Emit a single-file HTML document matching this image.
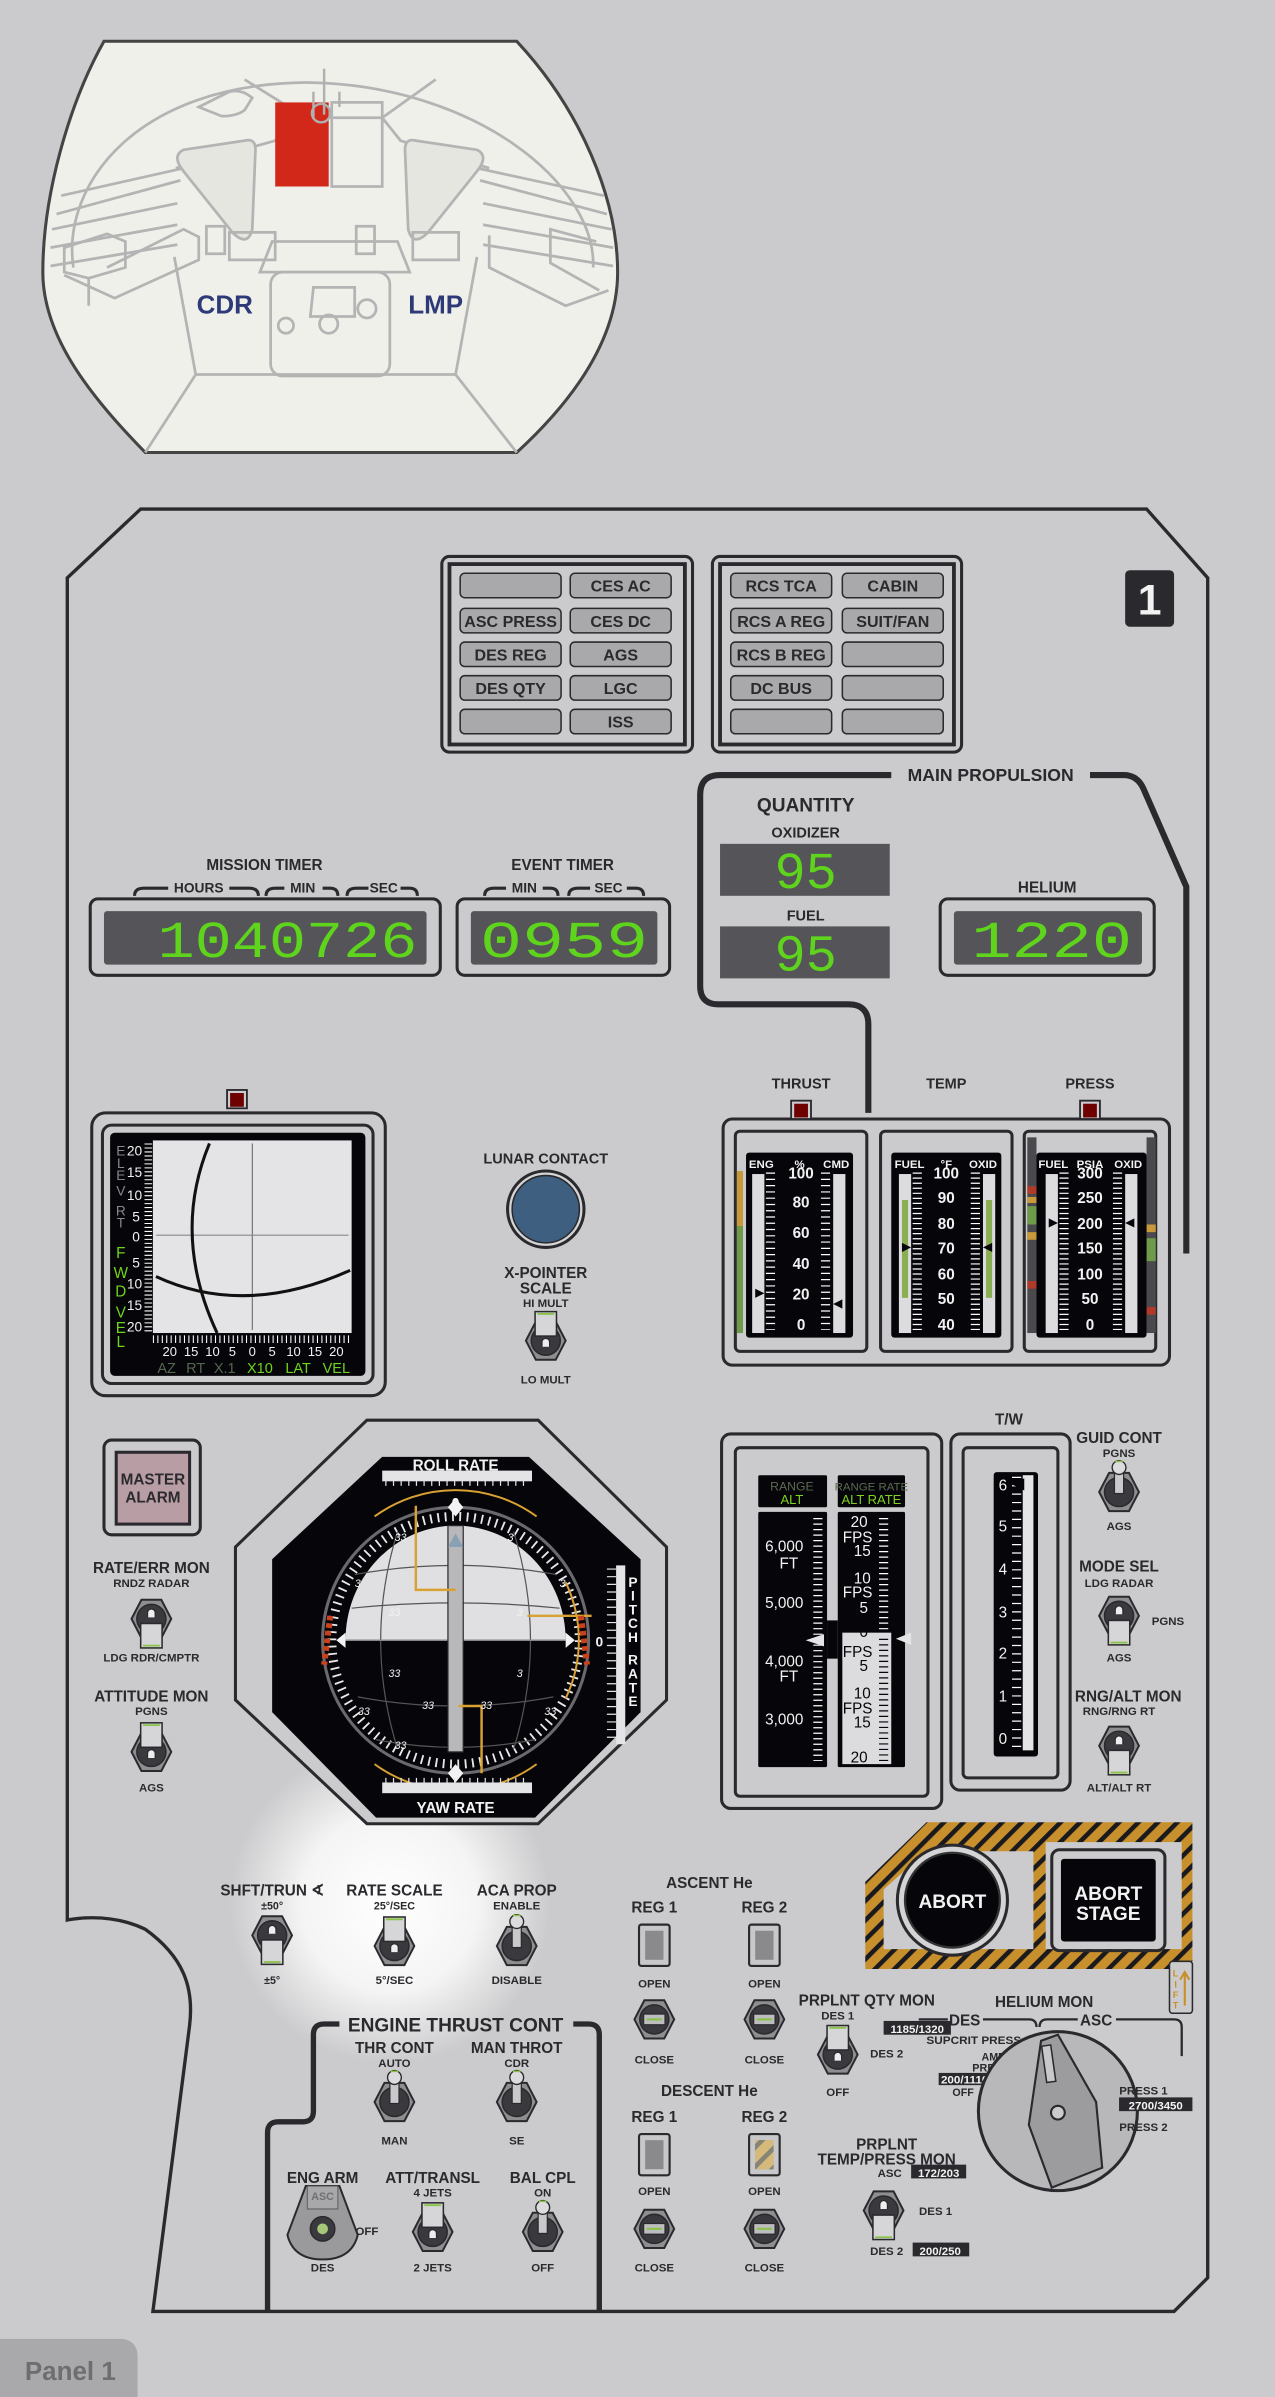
<!DOCTYPE html>
<html><head><meta charset="utf-8"><style>
html,body{margin:0;padding:0;background:#cbcbcd;}
svg{display:block}
.l{font-family:"Liberation Sans",sans-serif;font-weight:bold;fill:#2a2a2e;text-anchor:middle}
.w{font-family:"Liberation Sans",sans-serif;fill:#f2f2f2;text-anchor:middle}
.g{font-family:"Liberation Mono",monospace;fill:#5fd41c;text-anchor:middle}
</style></head><body>
<svg width="1275" height="2397" viewBox="0 0 834 1568" xmlns="http://www.w3.org/2000/svg">
<defs>
<pattern id="haz" width="9" height="9" patternUnits="userSpaceOnUse" patternTransform="rotate(45)">
<rect width="9" height="9" fill="#c8902c"/><rect width="3" height="9" fill="#1a1a1e"/></pattern>
<radialGradient id="glow"><stop offset="0" stop-color="#fff" stop-opacity="1"/><stop offset="0.55" stop-color="#fff" stop-opacity="0.8"/><stop offset="1" stop-color="#fff" stop-opacity="0"/></radialGradient>
<g id="hex"><polygon points="-13,0 -6.5,-12.5 6.5,-12.5 13,0 6.5,12.5 -6.5,12.5" fill="#8e8e90" stroke="#2a2a2e" stroke-width="1.3"/><circle r="9.5" fill="#3a3a3e" stroke="#2a2a2e"/></g>
<g id="tball"><use href="#hex"/><rect x="-3" y="-15" width="6" height="16" fill="#c9c9cb" stroke="#2a2a2e" stroke-width="0.8"/><circle cy="-16" r="4.5" fill="#dcdcde" stroke="#2a2a2e" stroke-width="0.9"/><path d="M-2.5,-20 h5" stroke="#8bc34a" stroke-width="1"/></g>
<g id="tup"><use href="#hex"/><path d="M-2.5,4 v-3 a2.5,2.5 0 0 1 5,0 v3" fill="#eee" stroke="#2a2a2e" stroke-width="0.8"/><rect x="-7" y="-19" width="14" height="16" fill="#d6d6d8" stroke="#2a2a2e" stroke-width="1"/><path d="M-5.5,-17.5 h11" stroke="#8bc34a" stroke-width="1.2"/></g>
<g id="tdn"><use href="#hex"/><path d="M-2.5,-1 v-3 a2.5,2.5 0 0 1 5,0 v3" fill="#eee" stroke="#2a2a2e" stroke-width="0.8"/><rect x="-7" y="3" width="14" height="16" fill="#d6d6d8" stroke="#2a2a2e" stroke-width="1"/><path d="M-5.5,17.5 h11" stroke="#8bc34a" stroke-width="1.2"/></g>
<g id="trot"><use href="#hex"/><rect x="-7" y="-3.5" width="14" height="7" fill="#bdbdbf" stroke="#2a2a2e" stroke-width="0.8"/><path d="M-5,0 h10" stroke="#8bc34a" stroke-width="1.4"/></g>
<g id="flag"><rect x="-10" y="-13" width="20" height="27" rx="1.5" fill="#c8c8ca" stroke="#2a2a2e" stroke-width="1.4"/><rect x="-6" y="-9" width="12" height="19" fill="#8a8a8c"/></g>
<g id="btn"><rect width="66" height="16" rx="3" fill="#a9a9ab" stroke="#2a2a2e" stroke-width="1"/></g>
<g id="lamp"><rect x="-6.5" y="-7" width="13" height="12" fill="#cbcbcd" stroke="#2a2a2e" stroke-width="1.2"/><rect x="-4.5" y="-5" width="9" height="9" fill="#6e0000"/></g>
</defs>
<rect width="834" height="1568" fill="#cbcbcd"/>

<!-- cockpit view -->
<g>
<path d="M68,27 H338 C380,72 404,130 404,178 C404,222 375,262 338,296 H95 C62,262 28,222 28,178 C28,128 45,68 68,27Z" fill="#f0f0eb" stroke="#444" stroke-width="2"/>
<g fill="none" stroke="#b4b4b4" stroke-width="1.8">
<path d="M48,175 C40,120 90,55 200,54 C310,55 390,120 388,175"/>
<path d="M128,245 L95,296 M298,245 L338,296 M128,245 H298 M128,245 L114,168 M298,245 L312,168"/>
<path d="M160,52 L200,77 L250,77 L285,52 M190,77 L180,92 L115,110 M250,77 L262,92 L320,110"/>
<path d="M120,110 L40,128 M118,118 L37,140 M116,133 L34,150 M116,147 L33,162 M116,160 L33,174" />
<path d="M312,110 L395,128 M314,118 L397,140 M316,133 L400,150 M316,147 L401,162 M316,160 L401,174"/>
<path d="M120,98 L160,92 Q168,90 167,100 L165,150 Q162,162 152,152 L120,112 Q112,102 120,98Z" fill="#e6e6e0"/>
<path d="M312,98 L272,92 Q264,90 265,100 L267,150 Q270,162 280,152 L312,112 Q320,102 312,98Z" fill="#e6e6e0"/>
<path d="M178,158 H260 L268,178 H170Z M205,188 H232 V207 H203Z"/>
<path d="M42,162 L70,153 L82,158 V175 L58,182 L42,178Z M58,182 V200 M42,180 L75,195 L130,170 V155 L120,150 L70,175"/>
<path d="M390,158 L360,150 V172 L392,190 M320,154 V175 L370,200 L398,190"/>
<rect x="177" y="178" width="78" height="68" rx="8"/>
<rect x="135" y="148" width="12" height="18"/><rect x="233" y="148" width="12" height="18"/>
<path d="M150,152 H180 V170 H150Z M270,152 H300 V170 H270Z"/>
<circle cx="215" cy="212" r="6"/><circle cx="240" cy="202" r="6"/><circle cx="187" cy="213" r="5"/>
<path d="M130,70 L150,60 Q158,58 165,64 L160,72 Q155,76 145,76Z"/>
<path d="M217,67 H250 V122 H217Z"/>
</g>
<rect x="180" y="67" width="35" height="55" fill="#d2281a"/>
<path d="M212,45 V75 M205,60 V78 M222,60 V70 M210,68 a6,6 0 1 0 0.1,0" stroke="#b0b0b0" stroke-width="1.6" fill="none"/>
<text x="147" y="205" class="l" style="font-size:17px;fill:#2e3a78">CDR</text>
<text x="285" y="205" class="l" style="font-size:17px;fill:#2e3a78">LMP</text>
</g>

<!-- panel outline -->
<path d="M44,378 L92,333 H750 L790,378 V1490 L768,1512 H100 L124,1325 C127,1300 120,1280 95,1262 C70,1250 44,1256 44,1256 Z" fill="#cbcbcd" stroke="#2a2a2e" stroke-width="2.2"/>
<circle cx="255" cy="1245" r="105" fill="url(#glow)"/>

<!-- annunciators -->
<g>
<rect x="289" y="364" width="164" height="128" rx="5" fill="none" stroke="#2a2a2e" stroke-width="2"/>
<rect x="294" y="369" width="154" height="118" fill="none" stroke="#2a2a2e" stroke-width="2.5"/>
<rect x="466" y="364" width="163" height="128" rx="5" fill="none" stroke="#2a2a2e" stroke-width="2"/>
<rect x="471" y="369" width="153" height="118" fill="none" stroke="#2a2a2e" stroke-width="2.5"/>
<use href="#btn" x="301" y="375"/><use href="#btn" x="373" y="375"/>
<use href="#btn" x="301" y="398"/><use href="#btn" x="373" y="398"/>
<use href="#btn" x="301" y="420"/><use href="#btn" x="373" y="420"/>
<use href="#btn" x="301" y="442"/><use href="#btn" x="373" y="442"/>
<use href="#btn" x="301" y="464"/><use href="#btn" x="373" y="464"/>
<use href="#btn" x="478" y="375"/><use href="#btn" x="551" y="375"/>
<use href="#btn" x="478" y="398"/><use href="#btn" x="551" y="398"/>
<use href="#btn" x="478" y="420"/><use href="#btn" x="551" y="420"/>
<use href="#btn" x="478" y="442"/><use href="#btn" x="551" y="442"/>
<use href="#btn" x="478" y="464"/><use href="#btn" x="551" y="464"/>
<g class="l" style="font-size:10.5px">
<text x="406" y="387">CES AC</text>
<text x="334" y="410">ASC PRESS</text><text x="406" y="410">CES DC</text>
<text x="334" y="432">DES REG</text><text x="406" y="432">AGS</text>
<text x="334" y="454">DES QTY</text><text x="406" y="454">LGC</text>
<text x="406" y="476">ISS</text>
<text x="511" y="387">RCS TCA</text><text x="584" y="387">CABIN</text>
<text x="511" y="410">RCS A REG</text><text x="584" y="410">SUIT/FAN</text>
<text x="511" y="432">RCS B REG</text>
<text x="511" y="454">DC BUS</text>
</g>
<rect x="736" y="373" width="32" height="37" rx="3" fill="#2a2a2e"/>
<text x="752" y="402" class="w" style="font-size:28px;font-weight:bold">1</text>
</g>

<!-- timers -->
<g>
<text x="173" y="569" class="l" style="font-size:10px">MISSION TIMER</text>
<g fill="none" stroke="#2a2a2e" stroke-width="2">
<path d="M88,586 q0,-5 6,-5 H110 M150,581 H163 q6,0 6,5 M174,586 q0,-5 6,-5 H186 M211,581 H216 q5,0 5,5 M227,586 q0,-5 6,-5 H241 M262,581 H268 q5,0 5,5"/>
<path d="M317,586 q0,-5 6,-5 H331 M355,581 H360 q5,0 5,5 M372,586 q0,-5 6,-5 H386 M410,581 H416 q5,0 5,5"/>
</g>
<g class="l" style="font-size:9px"><text x="130" y="584">HOURS</text><text x="198" y="584">MIN</text><text x="251" y="584">SEC</text><text x="343" y="584">MIN</text><text x="398" y="584">SEC</text></g>
<text x="368" y="569" class="l" style="font-size:10px">EVENT TIMER</text>
<rect x="59" y="588" width="229" height="50" rx="5" fill="none" stroke="#2a2a2e" stroke-width="2"/>
<rect x="68" y="596" width="211" height="35" rx="2" fill="#555559"/>
<text x="188" y="626" class="g" style="font-size:34px" textLength="170" lengthAdjust="spacingAndGlyphs">1040726</text>
<rect x="299" y="588" width="139" height="50" rx="5" fill="none" stroke="#2a2a2e" stroke-width="2"/>
<rect x="308" y="596" width="122" height="35" rx="2" fill="#555559"/>
<text x="369" y="626" class="g" style="font-size:34px" textLength="110" lengthAdjust="spacingAndGlyphs">0959</text>
</g>

<!-- main propulsion -->
<g>
<path d="M568,728 V670 Q568,657 555,657 H470 Q458,657 458,645 V520 Q458,507 471,507 H583 M713,507 H735 Q744,507 748,516 L776,580 V820" fill="none" stroke="#2a2a2e" stroke-width="4"/>
<text x="648" y="511" class="l" style="font-size:11.5px">MAIN PROPULSION</text>
<text x="527" y="531" class="l" style="font-size:12.5px">QUANTITY</text>
<text x="527" y="548" class="l" style="font-size:9.5px">OXIDIZER</text>
<rect x="471" y="552" width="111" height="34" fill="#555559"/>
<text x="527" y="581" class="g" style="font-size:34px">95</text>
<text x="527" y="602" class="l" style="font-size:9.5px">FUEL</text>
<rect x="471" y="606" width="111" height="34" fill="#555559"/>
<text x="527" y="635" class="g" style="font-size:34px">95</text>
<text x="685" y="584" class="l" style="font-size:10px">HELIUM</text>
<rect x="615" y="588" width="140" height="50" rx="5" fill="none" stroke="#2a2a2e" stroke-width="2"/>
<rect x="624" y="596" width="123" height="35" rx="2" fill="#555559"/>
<text x="688" y="626" class="g" style="font-size:34px" textLength="105" lengthAdjust="spacingAndGlyphs">1220</text>
</g>

<!-- thrust/temp/press -->
<g>
<g class="l" style="font-size:9.5px"><text x="524" y="712">THRUST</text><text x="619" y="712">TEMP</text><text x="713" y="712">PRESS</text></g>
<rect x="473" y="732" width="292" height="161" rx="6" fill="none" stroke="#2a2a2e" stroke-width="2"/>
<use href="#lamp" x="524" y="727"/><use href="#lamp" x="713" y="727"/>
<rect x="481" y="740" width="86" height="144" rx="3" fill="none" stroke="#2a2a2e" stroke-width="2"/>
<rect x="576" y="740" width="86" height="144" rx="3" fill="none" stroke="#2a2a2e" stroke-width="2"/>
<rect x="670" y="740" width="86" height="144" rx="3" fill="none" stroke="#2a2a2e" stroke-width="2"/>
<rect x="482" y="766" width="4" height="36" fill="#c8993a"/><rect x="482" y="802" width="4" height="70" fill="#6f9a4a"/>
<rect x="488" y="754" width="70" height="121" rx="2" fill="#05050a"/>
<g class="w" style="font-size:7.5px;font-weight:bold"><text x="498" y="764">ENG</text><text x="523" y="764">%</text><text x="547" y="764">CMD</text></g>
<rect x="492" y="768" width="8" height="104" fill="#dcdcde"/><rect x="545" y="768" width="8" height="104" fill="#dcdcde"/>
<line x1="504" y1="767" x2="504" y2="870" stroke="#fff" stroke-width="6" stroke-dasharray="0.8 3.3"/>
<line x1="540" y1="767" x2="540" y2="870" stroke="#fff" stroke-width="6" stroke-dasharray="0.8 3.3"/>
<g class="w" style="font-size:10px;font-weight:bold"><text x="524" y="771">100</text><text x="524" y="790">80</text><text x="524" y="810">60</text><text x="524" y="830">40</text><text x="524" y="850">20</text><text x="524" y="870">0</text></g>
<path d="M494,843 l6,3 l-6,3Z M551,850 l-6,3 l6,3Z" fill="#05050a"/>
<rect x="583" y="754" width="72" height="121" rx="2" fill="#05050a"/>
<g class="w" style="font-size:7.5px;font-weight:bold"><text x="595" y="764">FUEL</text><text x="619" y="764">°F</text><text x="643" y="764">OXID</text></g>
<rect x="588" y="768" width="8" height="104" fill="#dcdcde"/><rect x="643" y="768" width="8" height="104" fill="#dcdcde"/>
<rect x="590" y="785" width="4" height="64" fill="#8aae52"/><rect x="645" y="785" width="4" height="64" fill="#8aae52"/>
<line x1="600" y1="767" x2="600" y2="870" stroke="#fff" stroke-width="6" stroke-dasharray="0.8 2.5"/>
<line x1="638" y1="767" x2="638" y2="870" stroke="#fff" stroke-width="6" stroke-dasharray="0.8 2.5"/>
<g class="w" style="font-size:10px;font-weight:bold"><text x="619" y="771">100</text><text x="619" y="787">90</text><text x="619" y="804">80</text><text x="619" y="820">70</text><text x="619" y="837">60</text><text x="619" y="853">50</text><text x="619" y="870">40</text></g>
<path d="M590,813 l6,3 l-6,3Z M649,813 l-6,3 l6,3Z" fill="#05050a"/>
<rect x="672" y="744" width="6" height="128" fill="#4a4a4e"/><rect x="750" y="744" width="6" height="128" fill="#4a4a4e"/>
<rect x="672" y="776" width="6" height="5" fill="#b03a2a"/><rect x="672" y="783" width="6" height="4" fill="#c8993a"/><rect x="672" y="789" width="6" height="12" fill="#6f9a4a"/><rect x="672" y="806" width="6" height="5" fill="#c8993a"/><rect x="672" y="838" width="6" height="5" fill="#b03a2a"/>
<rect x="750" y="801" width="6" height="5" fill="#c8993a"/><rect x="750" y="810" width="6" height="15" fill="#6f9a4a"/><rect x="750" y="855" width="6" height="5" fill="#b03a2a"/>
<rect x="678" y="754" width="72" height="121" rx="2" fill="#05050a"/>
<g class="w" style="font-size:7.5px;font-weight:bold"><text x="689" y="764">FUEL</text><text x="713" y="764">PSIA</text><text x="738" y="764">OXID</text></g>
<rect x="684" y="768" width="8" height="104" fill="#dcdcde"/><rect x="736" y="768" width="8" height="104" fill="#dcdcde"/>
<line x1="696" y1="767" x2="696" y2="870" stroke="#fff" stroke-width="6" stroke-dasharray="0.8 2.5"/>
<line x1="731" y1="767" x2="731" y2="870" stroke="#fff" stroke-width="6" stroke-dasharray="0.8 2.5"/>
<g class="w" style="font-size:10px;font-weight:bold"><text x="713" y="771">300</text><text x="713" y="787">250</text><text x="713" y="804">200</text><text x="713" y="820">150</text><text x="713" y="837">100</text><text x="713" y="853">50</text><text x="713" y="870">0</text></g>
<path d="M686,797 l6,3 l-6,3Z M742,797 l-6,3 l6,3Z" fill="#05050a"/>
</g>

<!-- x-pointer display -->
<g>
<use href="#lamp" x="155" y="720"/>
<rect x="60" y="728" width="192" height="185" rx="9" fill="#cbcbcd" stroke="#2a2a2e" stroke-width="2"/>
<rect x="67" y="736" width="177" height="169" rx="6" fill="none" stroke="#2a2a2e" stroke-width="2"/>
<rect x="72" y="741" width="167" height="159" rx="3" fill="#05050a"/>
<rect x="100" y="746" width="130" height="126" fill="#e4e4e6"/>
<line x1="165" y1="748" x2="165" y2="870" stroke="#555" stroke-width="0.6"/>
<line x1="102" y1="808" x2="228" y2="808" stroke="#888" stroke-width="0.7"/>
<path d="M137,748 Q112,808 142,872" fill="none" stroke="#111" stroke-width="2"/>
<path d="M102,835 Q160,862 229,831" fill="none" stroke="#111" stroke-width="2"/>
<line x1="97" y1="748" x2="97" y2="872" stroke="#fff" stroke-width="5" stroke-dasharray="0.7 1.9"/>
<line x1="100" y1="876" x2="230" y2="876" stroke="#fff" stroke-width="5" stroke-dasharray="0.7 2.2"/>
<g class="w" style="font-size:9px"><text x="88" y="756">20</text><text x="88" y="770">15</text><text x="88" y="785">10</text><text x="89" y="799">5</text><text x="89" y="812">0</text><text x="89" y="829">5</text><text x="88" y="843">10</text><text x="88" y="857">15</text><text x="88" y="871">20</text></g>
<g class="w" style="font-size:9px;fill:#888"><text x="79" y="756">E</text><text x="79" y="764">L</text><text x="79" y="772">E</text><text x="79" y="782">V</text><text x="79" y="795">R</text><text x="79" y="803">T</text></g>
<g class="w" style="font-size:10px;fill:#6fd41c"><text x="79" y="823">F</text><text x="79" y="836">W</text><text x="79" y="848">D</text><text x="79" y="862">V</text><text x="79" y="872">E</text><text x="79" y="881">L</text></g>
<g class="w" style="font-size:8.5px"><text x="111" y="887">20</text><text x="125" y="887">15</text><text x="139" y="887">10</text><text x="152" y="887">5</text><text x="165" y="887">0</text><text x="178" y="887">5</text><text x="192" y="887">10</text><text x="206" y="887">15</text><text x="220" y="887">20</text></g>
<g class="w" style="font-size:9.5px"><text x="109" y="898" style="fill:#556650">AZ</text><text x="128" y="898" style="fill:#556650">RT</text><text x="147" y="898" style="fill:#556650">X.1</text><text x="170" y="898" style="fill:#6fd41c">X10</text><text x="195" y="898" style="fill:#6fd41c">LAT</text><text x="220" y="898" style="fill:#6fd41c">VEL</text></g>
</g>

<!-- lunar contact -->
<g>
<text x="357" y="761" class="l" style="font-size:9.5px">LUNAR CONTACT</text>
<circle cx="357" cy="791" r="25" fill="#d4d4d6" stroke="#2a2a2e" stroke-width="2"/>
<circle cx="357" cy="791" r="22" fill="#3e5f80" stroke="#2a2a2e" stroke-width="1"/>
<text x="357" y="836" class="l" style="font-size:10px">X-POINTER</text>
<text x="357" y="846" class="l" style="font-size:10px">SCALE</text>
<text x="357" y="855" class="l" style="font-size:7.5px">HI MULT</text>
<use href="#tup" x="357" y="877"/>
<text x="357" y="905" class="l" style="font-size:7.5px">LO MULT</text>
</g>

<!-- master alarm & left toggles -->
<g>
<rect x="68" y="942" width="63" height="62" rx="5" fill="none" stroke="#2a2a2e" stroke-width="2"/>
<rect x="76" y="950" width="48" height="47" fill="#b99da5" stroke="#2a2a2e" stroke-width="2"/>
<text x="100" y="971" class="l" style="font-size:10px">MASTER</text>
<text x="100" y="983" class="l" style="font-size:10px">ALARM</text>
<text x="99" y="1029" class="l" style="font-size:10px">RATE/ERR MON</text>
<text x="99" y="1038" class="l" style="font-size:7.5px">RNDZ RADAR</text>
<use href="#tdn" x="99" y="1059"/>
<text x="99" y="1087" class="l" style="font-size:7.5px">LDG RDR/CMPTR</text>
<text x="99" y="1113" class="l" style="font-size:10px">ATTITUDE MON</text>
<text x="99" y="1122" class="l" style="font-size:7.5px">PGNS</text>
<use href="#tup" x="99" y="1146"/>
<text x="99" y="1172" class="l" style="font-size:7.5px">AGS</text>
</g>

<!-- FDAI -->
<g>
<polygon points="240,929 352,929 436,1012 436,1112 352,1193 240,1193 154,1112 154,1012" fill="#cbcbcd" stroke="#2a2a2e" stroke-width="2"/>
<polygon points="250,953 346,953 419,1020 419,1120 350,1189 246,1189 178,1120 178,1020" fill="#05050a"/>
<circle cx="298" cy="1073" r="87" fill="#05050a" stroke="#6a6a6e" stroke-width="2"/>
<circle cx="298" cy="1073" r="81" fill="none" stroke="#e8e8e8" stroke-width="6" stroke-dasharray="1.2 3.6"/>
<path d="M226,1073 A72,75 0 0 1 370,1073 Z" fill="#e0e0e2"/>
<g fill="none" stroke="#555" stroke-width="0.8">
<path d="M232,1030 Q298,1018 364,1030 M230,1052 Q298,1045 366,1052"/>
<path d="M234,1110 Q298,1122 362,1110 M246,1138 Q298,1148 350,1138"/>
<path d="M260,1002 Q238,1073 260,1144 M336,1002 Q358,1073 336,1144"/>
</g>
<line x1="226" y1="1073" x2="370" y2="1073" stroke="#888" stroke-width="1"/>
<rect x="293" y="998" width="10" height="148" fill="#b8b8ba" stroke="#2a2a2e" stroke-width="0.8"/>
<path d="M293,1012 l5,-9 l5,9Z" fill="#8aa0b5"/>
<path d="M245,992 A90,90 0 0 1 351,992 M370,1035 A88,88 0 0 1 370,1111 M245,1154 A90,90 0 0 0 351,1154" fill="none" stroke="#d9a032" stroke-width="1.3"/>
<path d="M272,985 V1040 H298 M345,1057 H387 M315,1160 V1116 H300" fill="none" stroke="#d9a032" stroke-width="1.6"/>
<path d="M216,1057 l-4,32 M380,1057 l4,32" stroke="#c8401c" stroke-width="4" stroke-dasharray="3 2"/>
<path d="M298,980 l5,6 l-5,6 l-5,-6Z M298,1154 l5,6 l-5,6 l-5,-6Z M220,1073 l6,-5 v10Z M376,1073 l-6,-5 v10Z" fill="#f2f2f2"/>
<g class="w" style="font-size:7px;font-style:italic"><text x="262" y="1008">33</text><text x="334" y="1008">3</text><text x="234" y="1038">3</text><text x="368" y="1038">3</text><text x="258" y="1057">33</text><text x="340" y="1057">3</text><text x="258" y="1097">33</text><text x="340" y="1097">3</text><text x="238" y="1122">33</text><text x="280" y="1118">33</text><text x="318" y="1118">33</text><text x="360" y="1122">33</text><text x="262" y="1144">33</text></g>
<rect x="250" y="962" width="98" height="7" fill="#e4e4e6"/>
<line x1="252" y1="969" x2="346" y2="969" stroke="#e4e4e6" stroke-width="6" stroke-dasharray="0.8 4.2"/>
<text x="298" y="962" class="w" style="font-size:10px;font-weight:bold">ROLL RATE</text>
<text x="298" y="986" class="w" style="font-size:9px;font-weight:bold">0</text>
<rect x="250" y="1166" width="98" height="7" fill="#e4e4e6"/>
<line x1="252" y1="1166" x2="346" y2="1166" stroke="#e4e4e6" stroke-width="6" stroke-dasharray="0.8 4.2"/>
<text x="298" y="1163" class="w" style="font-size:9px;font-weight:bold">0</text>
<text x="298" y="1186" class="w" style="font-size:10px;font-weight:bold">YAW RATE</text>
<rect x="403" y="1024" width="6" height="117" fill="#e4e4e6"/>
<line x1="400" y1="1026" x2="400" y2="1139" stroke="#e4e4e6" stroke-width="6" stroke-dasharray="0.8 4.2"/>
<text x="392" y="1077" class="w" style="font-size:9px;font-weight:bold">0</text>
<g class="w" style="font-size:9px;font-weight:bold"><text x="414" y="1038">P</text><text x="414" y="1047">I</text><text x="414" y="1056">T</text><text x="414" y="1065">C</text><text x="414" y="1074">H</text><text x="414" y="1089">R</text><text x="414" y="1098">A</text><text x="414" y="1107">T</text><text x="414" y="1116">E</text></g>
</g>

<!-- range / alt -->
<g>
<rect x="472" y="938" width="144" height="245" rx="6" fill="none" stroke="#2a2a2e" stroke-width="2"/>
<rect x="481" y="947" width="126" height="228" rx="3" fill="none" stroke="#2a2a2e" stroke-width="2"/>
<rect x="496" y="965" width="45" height="21" rx="1" fill="#05050a"/>
<rect x="548" y="965" width="44" height="21" rx="1" fill="#05050a"/>
<text x="518" y="975" class="w" style="font-size:8px;fill:#5b6b50">RANGE</text>
<text x="518" y="984" class="w" style="font-size:8.5px;fill:#7fd41c">ALT</text>
<text x="570" y="975" class="w" style="font-size:7.5px;fill:#5b6b50">RANGE RATE</text>
<text x="570" y="984" class="w" style="font-size:8.5px;fill:#7fd41c">ALT RATE</text>
<rect x="496" y="989" width="45" height="167" rx="1" fill="#05050a"/>
<rect x="548" y="989" width="44" height="167" rx="1" fill="#05050a"/>
<rect x="541" y="1060" width="7" height="25" fill="#05050a"/>
<rect x="551" y="1068" width="32" height="86" fill="#dcdcde"/>
<line x1="535" y1="993" x2="535" y2="1152" stroke="#fff" stroke-width="6" stroke-dasharray="0.8 2.8"/>
<line x1="578" y1="993" x2="578" y2="1066" stroke="#fff" stroke-width="6" stroke-dasharray="0.8 2.8"/>
<line x1="578" y1="1072" x2="578" y2="1152" stroke="#05050a" stroke-width="6" stroke-dasharray="0.8 2.8"/>
<g class="w" style="font-size:10px"><text x="513" y="1015">6,000</text><text x="516" y="1026">FT</text><text x="513" y="1052">5,000</text><text x="513" y="1090">4,000</text><text x="516" y="1100">FT</text><text x="513" y="1128">3,000</text>
<text x="562" y="999">20</text><text x="561" y="1009">FPS</text><text x="564" y="1018">15</text><text x="564" y="1036">10</text><text x="561" y="1045">FPS</text><text x="565" y="1055">5</text></g>
<g class="w" style="font-size:10px;fill:#05050a"><text x="565" y="1071">0</text><text x="561" y="1084">FPS</text><text x="565" y="1093">5</text><text x="564" y="1111">10</text><text x="561" y="1121">FPS</text><text x="564" y="1130">15</text><text x="562" y="1153">20</text></g>
<path d="M539,1069 l-12,4 l12,4Z M596,1068 l-10,4 l10,4Z" fill="#e4e4e6"/>
<text x="660" y="932" class="l" style="font-size:10px">T/W</text>
<rect x="622" y="938" width="78" height="233" rx="6" fill="none" stroke="#2a2a2e" stroke-width="2"/>
<rect x="630" y="947" width="62" height="216" rx="3" fill="none" stroke="#2a2a2e" stroke-width="2"/>
<rect x="650" y="963" width="29" height="186" rx="2" fill="#05050a"/>
<rect x="669" y="965" width="7" height="180" fill="#e4e4e6"/>
<line x1="665" y1="966" x2="665" y2="1144" stroke="#fff" stroke-width="6" stroke-dasharray="0.8 4.7"/>
<g class="w" style="font-size:10px"><text x="656" y="975">6</text><text x="656" y="1002">5</text><text x="656" y="1030">4</text><text x="656" y="1058">3</text><text x="656" y="1085">2</text><text x="656" y="1113">1</text><text x="656" y="1141">0</text></g>
<path d="M662,971 l8,-4 v8Z" fill="#05050a"/>
</g>

<!-- right toggles -->
<g>
<text x="732" y="944" class="l" style="font-size:10px">GUID CONT</text>
<text x="732" y="953" class="l" style="font-size:7.5px">PGNS</text>
<use href="#tball" x="732" y="976"/>
<text x="732" y="1001" class="l" style="font-size:7.5px">AGS</text>
<text x="732" y="1028" class="l" style="font-size:10px">MODE SEL</text>
<text x="732" y="1038" class="l" style="font-size:7.5px">LDG RADAR</text>
<use href="#tdn" x="732" y="1057"/>
<text x="764" y="1063" class="l" style="font-size:7.5px">PGNS</text>
<text x="732" y="1087" class="l" style="font-size:7.5px">AGS</text>
<text x="738" y="1113" class="l" style="font-size:10px">RNG/ALT MON</text>
<text x="732" y="1122" class="l" style="font-size:7.5px">RNG/RNG RT</text>
<use href="#tdn" x="732" y="1142"/>
<text x="732" y="1172" class="l" style="font-size:7.5px">ALT/ALT RT</text>
</g>

<!-- lower left toggles -->
<g>
<text x="178" y="1240" class="l" style="font-size:10px">SHFT/TRUN ∢</text>
<text x="178" y="1249" class="l" style="font-size:7px">±50°</text>
<use href="#tdn" x="178" y="1266"/>
<text x="178" y="1298" class="l" style="font-size:7px">±5°</text>
<text x="258" y="1240" class="l" style="font-size:10px">RATE SCALE</text>
<text x="258" y="1249" class="l" style="font-size:7px">25°/SEC</text>
<use href="#tup" x="258" y="1273"/>
<text x="258" y="1298" class="l" style="font-size:7.5px">5°/SEC</text>
<text x="338" y="1240" class="l" style="font-size:10px">ACA PROP</text>
<text x="338" y="1249" class="l" style="font-size:7.5px">ENABLE</text>
<use href="#tball" x="338" y="1273"/>
<text x="338" y="1298" class="l" style="font-size:7.5px">DISABLE</text>
<path d="M175,1512 V1395 Q175,1388 182,1388 H198 Q205,1388 205,1381 V1331 Q205,1324 212,1324 H222 M375,1324 H385 Q392,1324 392,1331 V1512" fill="none" stroke="#2a2a2e" stroke-width="3.5"/>
<text x="298" y="1329" class="l" style="font-size:12.5px">ENGINE THRUST CONT</text>
<text x="258" y="1343" class="l" style="font-size:10px">THR CONT</text>
<text x="258" y="1352" class="l" style="font-size:7.5px">AUTO</text>
<use href="#tball" x="258" y="1375"/>
<text x="258" y="1403" class="l" style="font-size:7.5px">MAN</text>
<text x="338" y="1343" class="l" style="font-size:10px">MAN THROT</text>
<text x="338" y="1352" class="l" style="font-size:7.5px">CDR</text>
<use href="#tball" x="338" y="1375"/>
<text x="338" y="1403" class="l" style="font-size:7.5px">SE</text>
<text x="211" y="1428" class="l" style="font-size:10px">ENG ARM</text>
<path d="M200,1430 H222 L234,1462 Q230,1478 211,1478 Q192,1478 188,1462Z" fill="#9a9a9c" stroke="#2a2a2e" stroke-width="1.3"/>
<rect x="201" y="1430" width="20" height="15" fill="#a8a8aa" stroke="#555" stroke-width="0.6"/>
<text x="211" y="1439" class="l" style="font-size:7px;fill:#707072">ASC</text>
<circle cx="211" cy="1458" r="8" fill="#3a3a3e" stroke="#2a2a2e"/><circle cx="211" cy="1458" r="3.5" fill="#a5c878"/>
<text x="240" y="1462" class="l" style="font-size:7.5px">OFF</text>
<text x="211" y="1486" class="l" style="font-size:7.5px">DES</text>
<text x="283" y="1428" class="l" style="font-size:10px">ATT/TRANSL</text>
<text x="283" y="1437" class="l" style="font-size:7.5px">4 JETS</text>
<use href="#tup" x="283" y="1460"/>
<text x="283" y="1486" class="l" style="font-size:7.5px">2 JETS</text>
<text x="355" y="1428" class="l" style="font-size:10px">BAL CPL</text>
<text x="355" y="1437" class="l" style="font-size:7.5px">ON</text>
<use href="#tball" x="355" y="1460"/>
<text x="355" y="1486" class="l" style="font-size:7.5px">OFF</text>
</g>

<!-- helium regs -->
<g>
<text x="464" y="1235" class="l" style="font-size:10px">ASCENT He</text>
<text x="428" y="1251" class="l" style="font-size:10px">REG 1</text><text x="500" y="1251" class="l" style="font-size:10px">REG 2</text>
<use href="#flag" x="428" y="1272"/><use href="#flag" x="500" y="1272"/>
<text x="428" y="1300" class="l" style="font-size:7.5px">OPEN</text><text x="500" y="1300" class="l" style="font-size:7.5px">OPEN</text>
<use href="#trot" x="428" y="1321"/><use href="#trot" x="500" y="1321"/>
<text x="428" y="1350" class="l" style="font-size:7.5px">CLOSE</text><text x="500" y="1350" class="l" style="font-size:7.5px">CLOSE</text>
<text x="464" y="1371" class="l" style="font-size:10px">DESCENT He</text>
<text x="428" y="1388" class="l" style="font-size:10px">REG 1</text><text x="500" y="1388" class="l" style="font-size:10px">REG 2</text>
<use href="#flag" x="428" y="1409"/>
<rect x="490" y="1396" width="20" height="27" rx="1.5" fill="#c8c8ca" stroke="#2a2a2e" stroke-width="1.4"/>
<rect x="494" y="1400" width="12" height="19" fill="url(#haz)"/>
<rect x="494" y="1400" width="12" height="19" fill="#e0dcc0" opacity="0.55"/>
<text x="428" y="1436" class="l" style="font-size:7.5px">OPEN</text><text x="500" y="1436" class="l" style="font-size:7.5px">OPEN</text>
<use href="#trot" x="428" y="1458"/><use href="#trot" x="500" y="1458"/>
<text x="428" y="1486" class="l" style="font-size:7.5px">CLOSE</text><text x="500" y="1486" class="l" style="font-size:7.5px">CLOSE</text>
</g>

<!-- abort -->
<g>
<path d="M566,1231 L606,1192 H780 V1283 H765 V1288 H566Z" fill="url(#haz)"/>
<path d="M578,1236 L606,1211 H676 V1275 H578Z" fill="#cbcbcd"/>
<rect x="684" y="1205" width="89" height="70" fill="#cbcbcd"/>
<rect x="765" y="1283" width="15" height="34" rx="2" fill="#cbcbcd" stroke="#2a2a2e" stroke-width="1"/>
<path d="M775,1312 V1290 M772,1295 l3,-5 l3,5" stroke="#c8902c" stroke-width="1.4" fill="none"/>
<g class="l" style="font-size:6px;fill:#c8902c"><text x="769" y="1293">L</text><text x="769" y="1300">I</text><text x="769" y="1307">F</text><text x="769" y="1314">T</text></g>
<circle cx="623" cy="1243" r="36" fill="#d4d4d6" stroke="#2a2a2e" stroke-width="2"/>
<circle cx="623" cy="1243" r="31" fill="#05050a" stroke="#333" stroke-width="1.5"/>
<text x="623" y="1248" class="w" style="font-size:12.5px;font-weight:bold">ABORT</text>
<rect x="688" y="1210" width="74" height="66" rx="5" fill="none" stroke="#2a2a2e" stroke-width="2"/>
<rect x="694" y="1216" width="62" height="54" rx="2" fill="#05050a"/>
<text x="725" y="1243" class="w" style="font-size:12.5px;font-weight:bold">ABORT</text>
<text x="725" y="1256" class="w" style="font-size:12.5px;font-weight:bold">STAGE</text>
</g>

<!-- prplnt / helium mon -->
<g>
<text x="567" y="1312" class="l" style="font-size:10px">PRPLNT QTY MON</text>
<text x="548" y="1321" class="l" style="font-size:7.5px">DES 1</text>
<use href="#tup" x="548" y="1344"/>
<text x="580" y="1346" class="l" style="font-size:7.5px">DES 2</text>
<text x="548" y="1371" class="l" style="font-size:7.5px">OFF</text>
<rect x="578" y="1322" width="44" height="9" fill="#2a2a2e"/><text x="600" y="1330" class="w" style="font-size:7.5px;font-weight:bold">1185/1320</text>
<text x="683" y="1313" class="l" style="font-size:10px">HELIUM MON</text>
<path d="M601,1321 H620 M643,1321 H673 Q678,1321 678,1326 M680,1326 Q680,1321 685,1321 H705 M730,1321 H768 Q773,1321 773,1326 V1345" fill="none" stroke="#2a2a2e" stroke-width="1.5"/>
<text x="631" y="1325" class="l" style="font-size:10px">DES</text>
<text x="717" y="1325" class="l" style="font-size:10px">ASC</text>
<text x="637" y="1337" class="l" style="font-size:7px" textLength="62" lengthAdjust="spacingAndGlyphs">SUPCRIT PRESS</text>
<text x="650" y="1348" class="l" style="font-size:7px">AMB</text>
<text x="648" y="1355" class="l" style="font-size:7px" textLength="24" lengthAdjust="spacingAndGlyphs">PRESS</text>
<rect x="614" y="1356" width="34" height="8" fill="#2a2a2e"/><text x="631" y="1363" class="w" style="font-size:7px;font-weight:bold" textLength="31" lengthAdjust="spacingAndGlyphs">200/1110</text>
<text x="630" y="1371" class="l" style="font-size:7px">OFF</text>
<circle cx="692" cy="1381" r="52" fill="#b8b8ba" stroke="#2a2a2e" stroke-width="2"/>
<path d="M681,1335 L692,1331 L717,1375 L721,1418 L688,1431 L673,1390 Z" fill="#9c9c9e" stroke="#2a2a2e" stroke-width="1.4"/>
<rect x="683" y="1338" width="6" height="24" transform="rotate(-8 686 1350)" fill="#c8c8ca" stroke="#2a2a2e" stroke-width="1"/>
<circle cx="692" cy="1382" r="4.5" fill="#cbcbcd" stroke="#2a2a2e" stroke-width="1.4"/>
<text x="748" y="1370" class="l" style="font-size:7.5px">PRESS 1</text>
<rect x="732" y="1372" width="48" height="9" fill="#2a2a2e"/><text x="756" y="1380" class="w" style="font-size:7.5px;font-weight:bold">2700/3450</text>
<text x="748" y="1394" class="l" style="font-size:7.5px">PRESS 2</text>
<text x="580" y="1406" class="l" style="font-size:10px">PRPLNT</text>
<text x="580" y="1416" class="l" style="font-size:10px">TEMP/PRESS MON</text>
<text x="582" y="1424" class="l" style="font-size:7.5px">ASC</text>
<rect x="596" y="1416" width="36" height="9" fill="#2a2a2e"/><text x="614" y="1424" class="w" style="font-size:7.5px;font-weight:bold">172/203</text>
<use href="#tdn" x="578" y="1446"/>
<text x="612" y="1449" class="l" style="font-size:7.5px">DES 1</text>
<text x="580" y="1475" class="l" style="font-size:7.5px">DES 2</text>
<rect x="597" y="1467" width="37" height="9" fill="#2a2a2e"/><text x="615" y="1475" class="w" style="font-size:7.5px;font-weight:bold">200/250</text>
</g>

<!-- panel tab -->
<path d="M0,1530 H78 Q90,1530 90,1542 V1568 H0Z" fill="#a9a9ab"/>
<text x="46" y="1557" class="l" style="font-size:17px;fill:#6e6e70">Panel 1</text>
</svg>
</body></html>
